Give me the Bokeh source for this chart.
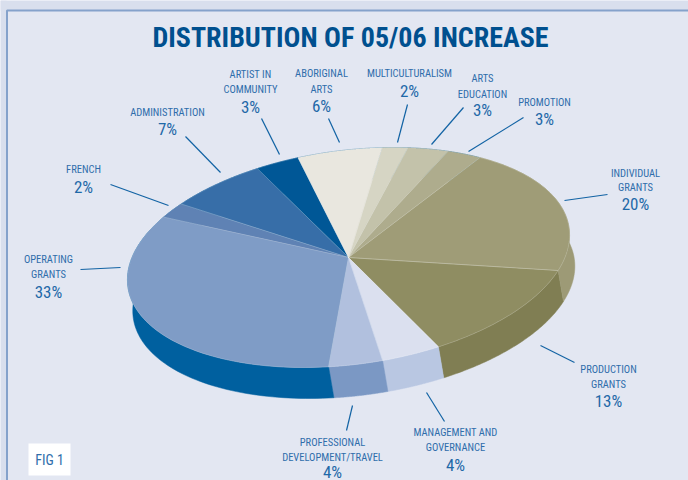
import numpy as np
from bokeh.plotting import figure
from bokeh.models import Range1d
from bokeh.core.properties import value
from bokeh.embed import file_html
from bokeh.resources import INLINE

title_text = "DISTRIBUTION OF 05/06 INCREASE"
categories = ["PRODUCTION GRANTS", "MANAGEMENT AND GOVERNANCE", "PROFESSIONAL DEVELOPMENT/TRAVEL",
              "OPERATING GRANTS", "FRENCH", "ADMINISTRATION", "ARTIST IN COMMUNITY", "ABORIGINAL ARTS",
              "MULTICULTURALISM", "ARTS EDUCATION", "PROMOTION", "INDIVIDUAL GRANTS"]
# percentages as printed on the chart
values = [13, 4, 4, 33, 2, 7, 3, 6, 2, 3, 3, 20]
# slice sizes (unrounded readings of the printed figures)
drawn_shares = [13.2, 4.2, 3.9, 32.8, 2.1, 6.9, 3.1, 6.1, 1.9, 3.1, 2.7, 20.0]
top_colors = ["#8f8d62", "#dbe0ef", "#b1c0de", "#7f9cc6", "#5f82b4", "#376ea8", "#005796",
              "#e9e7df", "#d6d5c4", "#c3c2aa", "#aeac8d", "#9f9c77"]
side_colors = ["#807e53", "#b9c7e2", "#7b98c4", "#00609f", "#00609f", "#00609f", "#00609f",
               "#00609f", "#00609f", "#00609f", "#00609f", "#9d9a76"]
label_lines = [["PRODUCTION", "GRANTS"], ["MANAGEMENT AND", "GOVERNANCE"], ["PROFESSIONAL", "DEVELOPMENT/TRAVEL"],
               ["OPERATING", "GRANTS"], ["FRENCH"], ["ADMINISTRATION"], ["ARTIST IN", "COMMUNITY"],
               ["ABORIGINAL", "ARTS"], ["MULTICULTURALISM"], ["ARTS", "EDUCATION"], ["PROMOTION"],
               ["INDIVIDUAL", "GRANTS"]]
label_cx = [608, 455, 332, 48, 83, 167, 250, 321, 409, 482, 544, 635]
label_y = [[369, 384, 400], [432, 447, 464], [442, 457, 471], [259, 274, 291], [169, 186], [112, 128],
           [74, 89, 106], [73, 89, 105], [73, 90], [78, 94, 109], [102, 118], [173, 187, 203]]
leaders = [[(540, 345), (574, 362)], [(426, 392), (444, 421)], [(352, 405), (346, 430)], [(80, 269), (120, 267)],
           [(110, 184), (168, 205)], [(185, 136), (220, 172)], [(261, 118), (279, 154)], [(328, 118), (339, 142)],
           [(407, 104), (397, 142)], [(463, 107), (431, 144)], [(523, 117), (468, 151)], [(607, 194), (564, 200)]]

CX, CY, A, B, TILT, START = 348, 257, 222.5, 107, np.radians(7.5), np.radians(22.1)
DEPTH_X, DEPTH_Y = 5.3, 31

W, H = 688, 480
p = figure(width=W, height=H, x_range=Range1d(0, W), y_range=Range1d(H, 0),
           output_backend="svg", toolbar_location=None, min_border=0)
p.axis.visible = False
p.grid.visible = False
p.outline_line_color = None
p.background_fill_color = "#e3e7f2"
p.border_fill_color = "#e3e7f2"

# page frame of the reference
p.quad(left=[0], right=[688], top=[0], bottom=[10], fill_color="#d9dfed", line_color=None)
p.quad(left=[0], right=[6], top=[0], bottom=[480], fill_color="#d9dfed", line_color=None)
p.line([688, 6.5, 6.5], [10, 10, 480], line_color="#85a2cb", line_width=2)


def rim(t):
    u, v = A * np.cos(t), B * np.sin(t)
    return CX + u * np.cos(TILT) + v * np.sin(TILT), CY - u * np.sin(TILT) + v * np.cos(TILT)


edges = START + np.cumsum([0] + drawn_shares) / sum(drawn_shares) * 2 * np.pi
wall_x, wall_y, face_x, face_y = [], [], [], []
for a0, a1 in zip(edges[:-1], edges[1:]):
    t = np.linspace(a0, a1, 80)
    x, y = rim(t)
    wall_x.append(np.r_[x, x[::-1] + DEPTH_X])
    wall_y.append(np.r_[y, y[::-1] + DEPTH_Y])
    face_x.append(np.r_[CX, x])
    face_y.append(np.r_[CY, y])

p.patches(wall_x, wall_y, fill_color=side_colors, line_color=side_colors, line_width=0.5)
p.patches(face_x, face_y, fill_color=top_colors, line_color=top_colors, line_width=0.5)
p.patches(face_x, face_y, fill_color=None, line_color="white", line_alpha=0.22, line_width=0.7)

p.multi_line([[a[0], b[0]] for a, b in leaders], [[a[1], b[1]] for a, b in leaders],
             line_color="#1263a4", line_width=1.2)

FONT = "Roboto Condensed"
tx, ty, tt, px, py, pt = [], [], [], [], [], []
for lines, v, cx, ys in zip(label_lines, values, label_cx, label_y):
    for s, y in zip(lines, ys):
        tx.append(cx); ty.append(y); tt.append(s)
    px.append(cx); py.append(ys[-1]); pt.append(f"{v}%")
p.text(tx, ty, text=tt, text_font=value(FONT), text_font_size="10.5px", text_color="#2f6dab",
       text_align="center", text_baseline="middle")
p.text(px, py, text=pt, text_font=value(FONT), text_font_size="17px", text_color="#1f69a8",
       text_align="center", text_baseline="middle")

p.text([350], [37], text=[title_text], text_font=value(FONT), text_font_style="bold", text_font_size="28px",
       text_color="#00508f", text_align="center", text_baseline="middle")

p.quad(left=[28], right=[70], top=[443], bottom=[475], fill_color="white", line_color=None)
p.text([49], [459], text=["FIG 1"], text_font=value(FONT), text_font_size="14px", text_color="#2f6dab",
       text_align="center", text_baseline="middle")

open("out.html", "w").write(file_html(p, INLINE))
